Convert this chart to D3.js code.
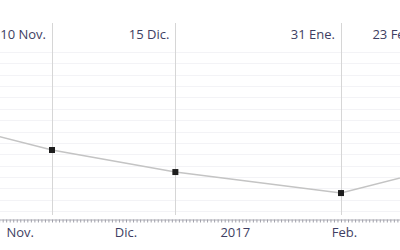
<!DOCTYPE html>
<html><head><meta charset="utf-8">
<script src="https://cdn.jsdelivr.net/npm/d3@7"></script>
<style>html,body{margin:0;padding:0;background:#fff;overflow:hidden}svg{display:block}</style>
</head><body>
<svg id="c" width="400" height="250"></svg>
<script>
const pointDates = ["2016-10-19","2016-11-10","2016-12-15","2017-01-31","2017-02-23"];
const pointValues = [67.1, 65.37, 63.43, 61.58, 63.40];
const topLabels = ["", "10 Nov.", "15 Dic.", "31 Ene.", "23 Feb."];
const monthTicks = ["2016-11-01","2016-12-01","2017-01-01","2017-02-01"];
const monthLabels = ["Nov.","Dic.","2017","Feb."];
const gridValues = d3.range(60, 75, 1);

const parse = d3.utcParse("%Y-%m-%d");
const dates = pointDates.map(parse);
const svg = d3.select("#c");
const font = "'Open Sans', 'Noto Sans', sans-serif";
const textColor = "#3e3e62";

const x = d3.scaleUtc().domain([parse("2016-11-10"), parse("2017-01-31")]).range([52, 341]);
const y = d3.scaleLinear().domain([60, 74]).range([211, 52]);

// horizontal gridlines
svg.append("g").selectAll("line").data(gridValues).join("line")
  .attr("x1", 0).attr("x2", 400)
  .attr("y1", d => Math.round(y(d)) + 0.5).attr("y2", d => Math.round(y(d)) + 0.5)
  .attr("stroke", "#f3f3f6").attr("stroke-width", 1);

// vertical event lines
svg.append("g").selectAll("line").data(dates.slice(1)).join("line")
  .attr("x1", d => Math.round(x(d)) + 0.5).attr("x2", d => Math.round(x(d)) + 0.5)
  .attr("y1", 23).attr("y2", 215)
  .attr("stroke", "#d6d6d6").attr("stroke-width", 1);

// top labels
svg.append("g").selectAll("text").data(dates.slice(1)).join("text")
  .attr("x", d => x(d) - 6).attr("y", 39)
  .attr("text-anchor", "end")
  .attr("font-family", font).attr("font-size", 13)
  .attr("fill", textColor)
  .text((d, i) => topLabels[i + 1]);

// line
const line = d3.line().x((d, i) => x(dates[i])).y(d => y(d));
svg.append("path").datum(pointValues)
  .attr("d", line).attr("fill", "none")
  .attr("stroke", "#c4c4c4").attr("stroke-width", 1.5);

// markers
svg.append("g").selectAll("rect").data(pointValues).join("rect")
  .attr("x", (d, i) => x(dates[i]) - 3).attr("y", d => y(d) - 3)
  .attr("width", 6).attr("height", 6)
  .attr("fill", "#1e1e1e");

// bottom axis with daily ticks
const ax = svg.append("g").attr("transform", "translate(0,219.5)");
const xFull = x.copy().domain([x.invert(-10), x.invert(410)]).range([-10, 410]);
ax.call(d3.axisBottom(xFull).ticks(d3.utcDay.every(1)).tickSize(3).tickSizeOuter(0).tickFormat(""));
ax.select(".domain").attr("stroke", "#b0b0b8");
ax.selectAll(".tick line").attr("stroke", "#a0a0aa");

// month labels
svg.append("g").selectAll("text").data(monthTicks).join("text")
  .attr("x", d => x(parse(d))).attr("y", 237)
  .attr("text-anchor", "middle")
  .attr("font-family", font).attr("font-size", 13)
  .attr("fill", textColor)
  .text((d, i) => monthLabels[i]);
</script>
</body></html>
